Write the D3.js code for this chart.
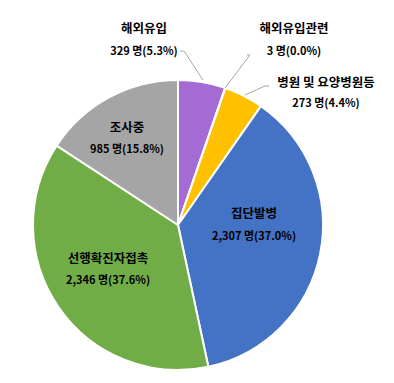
<!DOCTYPE html>
<html><head><meta charset="utf-8">
<script src="https://cdn.jsdelivr.net/npm/d3@7"></script>
<style>body{margin:0;background:#fff}svg{display:block}</style>
</head><body>
<script>
const categories = ["해외유입","해외유입관련","병원 및 요양병원등","집단발병","선행확진자접촉","조사중"];
const values = [329, 3, 273, 2307, 2346, 985];
const valueLabels = ["329 명(5.3%)","3 명(0.0%)","273 명(4.4%)","2,307 명(37.0%)","2,346 명(37.6%)","985 명(15.8%)"];
const colors = ["#A56BD5","#5B9BD5","#FFC000","#4472C4","#70AD47","#A5A5A5"];

// layout (label centers, leader lines)
const labelPos = [
  {x:144, y:27, vy:50, line:[[180,51],[184,51],[203,80]]},
  {x:294, y:27, vy:50, line:[[247,55],[250,55],[225,88]]},
  {x:326, y:81, vy:102, line:[[269,86],[265,86],[245,95]]},
  {x:254, y:212, vy:235},
  {x:108, y:257, vy:279},
  {x:127, y:126, vy:148}
];

const W=394,H=383, cx=178, cy=225, R=145;
const svg=d3.select("body").append("svg").attr("width",W).attr("height",H);
const pie=d3.pie().sort(null).value(d=>d)(values);
const arc=d3.arc().innerRadius(0).outerRadius(R);
const g=svg.append("g").attr("transform",`translate(${cx},${cy})`);
g.selectAll("path").data(pie).join("path")
  .attr("d",arc).attr("fill",(d,i)=>colors[i])
  .attr("stroke","#fff").attr("stroke-width",2).attr("stroke-linejoin","round");

const line=d3.line();
labelPos.forEach((p,i)=>{
  if(p.line) svg.append("path").attr("d",line(p.line)).attr("fill","none").attr("stroke","#A6A6A6").attr("stroke-width",1);
  svg.append("text").attr("x",p.x).attr("y",p.y).attr("text-anchor","middle").attr("dominant-baseline","central")
    .attr("font-family","'Noto Sans CJK KR','Noto Sans',sans-serif").attr("font-size",12.5).attr("font-weight",700)
    .attr("fill","#000").text(categories[i]);
  svg.append("text").attr("x",p.x).attr("y",p.vy).attr("text-anchor","middle").attr("dominant-baseline","central")
    .attr("font-family","'Noto Sans CJK KR','Noto Sans',sans-serif").attr("font-size",11).attr("font-weight",700)
    .attr("fill","#000").text(valueLabels[i]);
});
</script>
</body></html>
